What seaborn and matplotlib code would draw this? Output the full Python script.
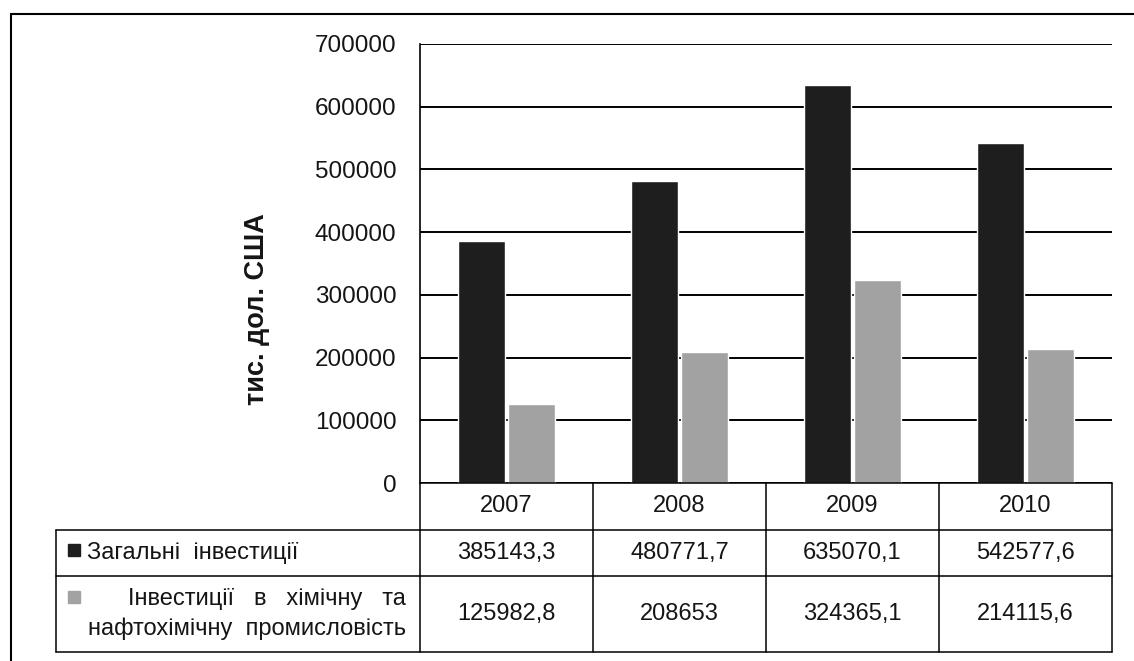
import pandas as pd
import matplotlib.pyplot as plt
import seaborn as sns
from matplotlib.patches import Rectangle
from matplotlib.lines import Line2D

# дані з таблиці під діаграмою
roky = ['2007', '2008', '2009', '2010']
zagalni = [385143.3, 480771.7, 635070.1, 542577.6]
khimichna = [125982.8, 208653, 324365.1, 214115.6]
zagalni_txt = ['385143,3', '480771,7', '635070,1', '542577,6']
khimichna_txt = ['125982,8', '208653', '324365,1', '214115,6']
ryady = ['Загальні  інвестиції', 'Інвестиції   в   хімічну   та\nнафтохімічну  промисловість']
yticks = [0, 100000, 200000, 300000, 400000, 500000, 600000, 700000]

temna = '#1e1e1e'
sira = '#a2a2a2'
tekst = '#151515'

sns.set_style('white')
plt.rcParams['font.family'] = ['Liberation Sans', 'DejaVu Sans']

df = pd.DataFrame({
    'rik': roky * 2,
    'znach': zagalni + khimichna,
    'ryad': [ryady[0]] * 4 + [ryady[1]] * 4,
})

W, H = 1134, 661
fig = plt.figure(figsize=(11.34, 6.61), dpi=100)
ax = fig.add_axes([420 / W, 1 - 483 / H, 692 / W, 439 / H])

sns.barplot(data=df, x='rik', y='znach', hue='ryad', palette=[temna, sira],
            width=0.58, gap=0.05, saturation=1, legend=False, ax=ax, zorder=3)

ax.set_ylim(0, 700000)
ax.set_xlim(-0.5, 3.5)
ax.set_yticks(yticks)
ax.set_yticklabels([str(t) for t in yticks])
ax.set_xticks([])
ax.set_xlabel('')
ax.set_ylabel('')
ax.tick_params(axis='y', length=0, pad=17, labelsize=17.5, labelcolor=tekst)
ax.yaxis.grid(True, color='black', lw=1.4)
ax.set_axisbelow(True)
for s in ['top', 'right', 'bottom']:
    ax.spines[s].set_visible(False)
ax.spines['left'].set_color('black')
ax.spines['left'].set_linewidth(1.2)

fig.text(257 / W, 1 - 309 / H, 'тис. дол. США', rotation=90, ha='center', va='center',
         fontsize=19.5, fontweight='bold', color=tekst)


# таблиця даних під графіком (координати в пікселях)
def fx(x):
    return x / W


def fy(y):
    return 1 - y / H


def liniya(x0, x1, y0, y1, lw=1.1):
    fig.add_artist(Line2D([fx(x0), fx(x1)], [fy(y0), fy(y1)], color='black', lw=lw))


tab_l, tab_r = 56, 1112
kol = [420 + i * 173 for i in range(5)]
rядки = [483, 530, 576, 652]

liniya(kol[0], tab_r, rядки[0], rядки[0])
for y in rядки[1:]:
    liniya(tab_l, tab_r, y, y)
liniya(tab_l, tab_l, rядки[1], rядки[3])
for x in kol:
    liniya(x, x, rядки[0], rядки[3])

fs = 17
for j in range(len(roky)):
    xc = fx((kol[j] + kol[j + 1]) / 2)
    fig.text(xc, fy((rядки[0] + rядки[1]) / 2), roky[j], ha='center', va='center', fontsize=fs, color=tekst)
    fig.text(xc, fy((rядки[1] + rядки[2]) / 2), zagalni_txt[j], ha='center', va='center', fontsize=fs, color=tekst)
    fig.text(xc, fy((rядки[2] + rядки[3]) / 2), khimichna_txt[j], ha='center', va='center', fontsize=fs, color=tekst)

fig.text(fx(87), fy((rядки[1] + rядки[2]) / 2), ryady[0], ha='left', va='center', fontsize=fs, color=tekst)
fig.text(fx(88), fy((rядки[2] + rядки[3]) / 2), ryady[1], ha='left', va='center', fontsize=fs,
         multialignment='right', linespacing=1.45, color=tekst)

# маркери легенди
for yc, col in [(550, temna), (597, sira)]:
    fig.add_artist(Rectangle((fx(68), fy(yc + 6)), 12 / W, 12 / H, color=col,
                             transform=fig.transFigure))

# рамка
liniya(11, 11, 14, H, lw=1.5)
liniya(11, W, 14, 14, lw=1.5)

fig.savefig('out.png', dpi=100)
